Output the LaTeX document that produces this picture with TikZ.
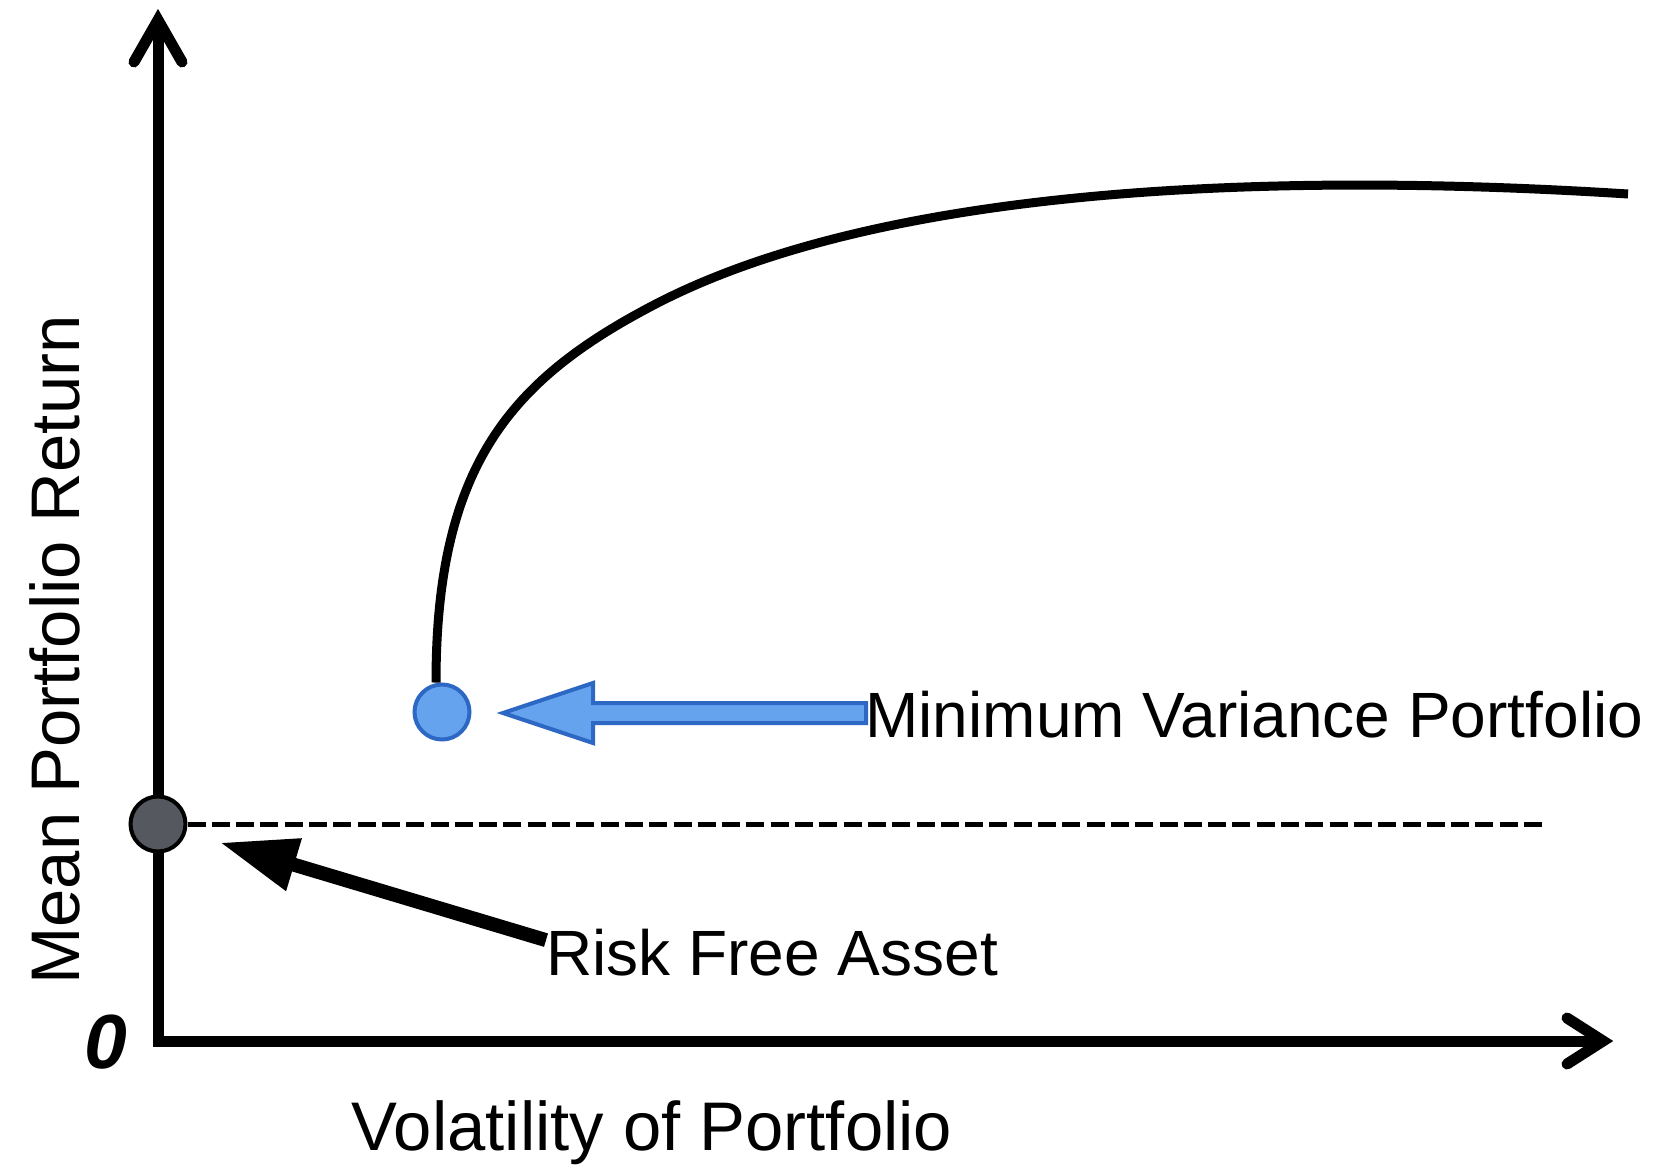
\documentclass[tikz,border=0pt]{standalone}
\usepackage{fontspec}
\setmainfont{Liberation Sans}
\usetikzlibrary{arrows.meta}

\definecolor{mvfill}{HTML}{66A3EF}
\definecolor{mvline}{HTML}{2D68C4}
\definecolor{rffill}{HTML}{56585F}

\tikzset{
  axisline/.style={line width=5.5pt, line join=miter},
  axishead/.style={line width=5.5pt, line cap=round, line join=miter, miter limit=10},
  frontier/.style={line width=4.5pt},
  rfdot/.style={circle, inner sep=0pt, minimum size=27.5pt, line width=2pt, draw=black, fill=rffill},
  mvdot/.style={circle, inner sep=0pt, minimum size=27.5pt, line width=2pt, draw=mvline, fill=mvfill},
  blockarrow/.style={line width=2pt, draw=mvline, fill=mvfill, line join=miter},
  pointer/.style={line width=7pt, -{Triangle[length=38.75pt, width=25.5pt]}},
  rfline/.style={line width=2.5pt, dash pattern=on 9pt off 3.15pt},
  lbl/.style={inner sep=0pt, font=\fontsize{32}{38}\selectfont},
  axlbl/.style={inner sep=0pt, font=\fontsize{34.4}{40}\selectfont},
  zerolbl/.style={inner sep=0pt, font=\fontsize{38.4}{44}\selectfont\bfseries\itshape}
}

\begin{document}
\begin{tikzpicture}[x=0.5pt, y=-0.5pt]
\useasboundingbox (0,0) rectangle (1658,1166);

% axes with open arrow heads
\draw[axisline] (158,20) -- (158,1041) -- (1603,1041);
\draw[axishead] (134,62) -- (158,20) -- (182,62);
\draw[axishead] (1567,1018) -- (1603,1041) -- (1567,1064);

% axis titles and origin
\node[axlbl, anchor=base] (xl) at (652,1150) {Volatility of Portfolio};
\node[axlbl, anchor=base, rotate=90] (yl) at (79,650) {Mean Portfolio Return};
\node[zerolbl] (zero) at (106,1042) {0};

% risk free asset and its level
\node[rfdot] (rf) at (158,824) {};
\coordinate (rfend) at (1548,824);
\draw[rfline] (rf) -- (rfend);

% minimum variance portfolio and efficient frontier
\node[mvdot] (mv) at (442,712) {};
\coordinate (fmid) at (650,307);
\coordinate (fend) at (1628,194);
\draw[frontier] ([xshift=-3pt]mv.north) .. controls (436,467) and (510,381) .. (fmid)
  .. controls (870,190) and (1250,170) .. (fend);

% labels with their pointers
\node[lbl, anchor=base west] (mvt) at (865,737) {Minimum Variance Portfolio};
\node[lbl, anchor=base west] (rft) at (546,975) {Risk Free Asset};

\draw[blockarrow] (866,703) -- (593,703) -- (593,683) -- (503,713) -- (593,743) -- (593,723) -- (866,723) -- cycle;
\draw[pointer, shorten >=17.5pt] ([yshift=6pt]rft.west) -- (rf);
\end{tikzpicture}
\end{document}
